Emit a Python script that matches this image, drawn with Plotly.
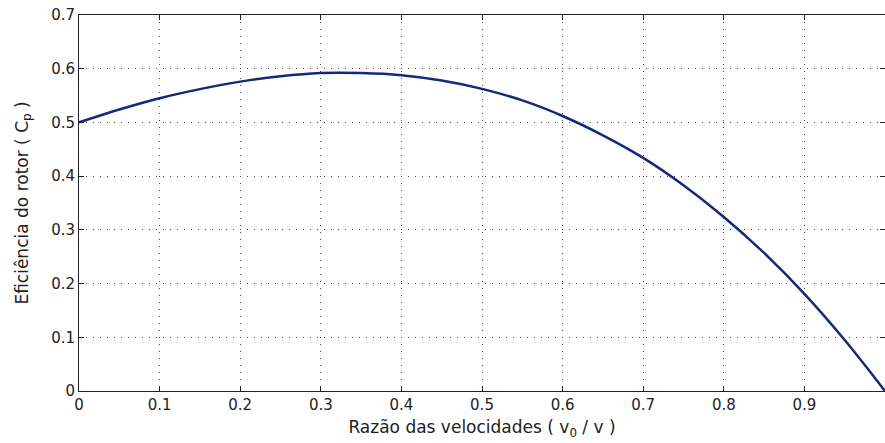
import plotly.graph_objects as go

ratio = [0.0, 0.05, 0.1, 0.15, 0.2, 0.25, 0.3, 0.35, 0.4, 0.45, 0.5,
         0.55, 0.6, 0.65, 0.7, 0.75, 0.8, 0.85, 0.9, 0.95, 1.0]
cp = [0.500, 0.524, 0.545, 0.562, 0.576, 0.586, 0.592, 0.592, 0.588, 0.578, 0.5625,
      0.541, 0.512, 0.476, 0.434, 0.383, 0.324, 0.257, 0.181, 0.095, 0.0]

x_ticks = [0, 0.1, 0.2, 0.3, 0.4, 0.5, 0.6, 0.7, 0.8, 0.9, 1]
x_labels = ["0", "0.1", "0.2", "0.3", "0.4", "0.5", "0.6", "0.7", "0.8", "0.9", "1"]
y_ticks = [0, 0.1, 0.2, 0.3, 0.4, 0.5, 0.6, 0.7]
y_labels = ["0", "0.1", "0.2", "0.3", "0.4", "0.5", "0.6", "0.7"]

fig = go.Figure()
fig.add_trace(go.Scatter(x=ratio, y=cp, mode="lines", line_shape="spline",
                         line=dict(color="#13297a", width=2.5), showlegend=False))

font = dict(family="DejaVu Sans, Liberation Sans, sans-serif", size=15, color="#222")
title_font = dict(family="DejaVu Sans, Liberation Sans, sans-serif", size=17, color="#222")
axis_common = dict(showline=True, linecolor="#222", linewidth=1, mirror="ticks",
                   ticks="inside", ticklen=5, tickcolor="#222",
                   showgrid=True, gridcolor="#444", griddash="1px,6px", gridwidth=1,
                   zeroline=False, tickfont=font)

fig.update_layout(
    width=885, height=443,
    margin=dict(l=79, r=0, t=15, b=52),
    paper_bgcolor="white", plot_bgcolor="white",
    font=font,
    xaxis=dict(range=[0, 1], tickvals=x_ticks, ticktext=x_labels,
               title=dict(text="Razão das velocidades ( v<sub>0</sub> / v )", font=title_font, standoff=8),
               **axis_common),
    yaxis=dict(range=[0, 0.7], tickvals=y_ticks, ticktext=y_labels,
               title=dict(text="Eficiência do rotor ( C<sub>p</sub> )", font=title_font, standoff=18),
               **axis_common),
)

fig.write_html("out.html")
